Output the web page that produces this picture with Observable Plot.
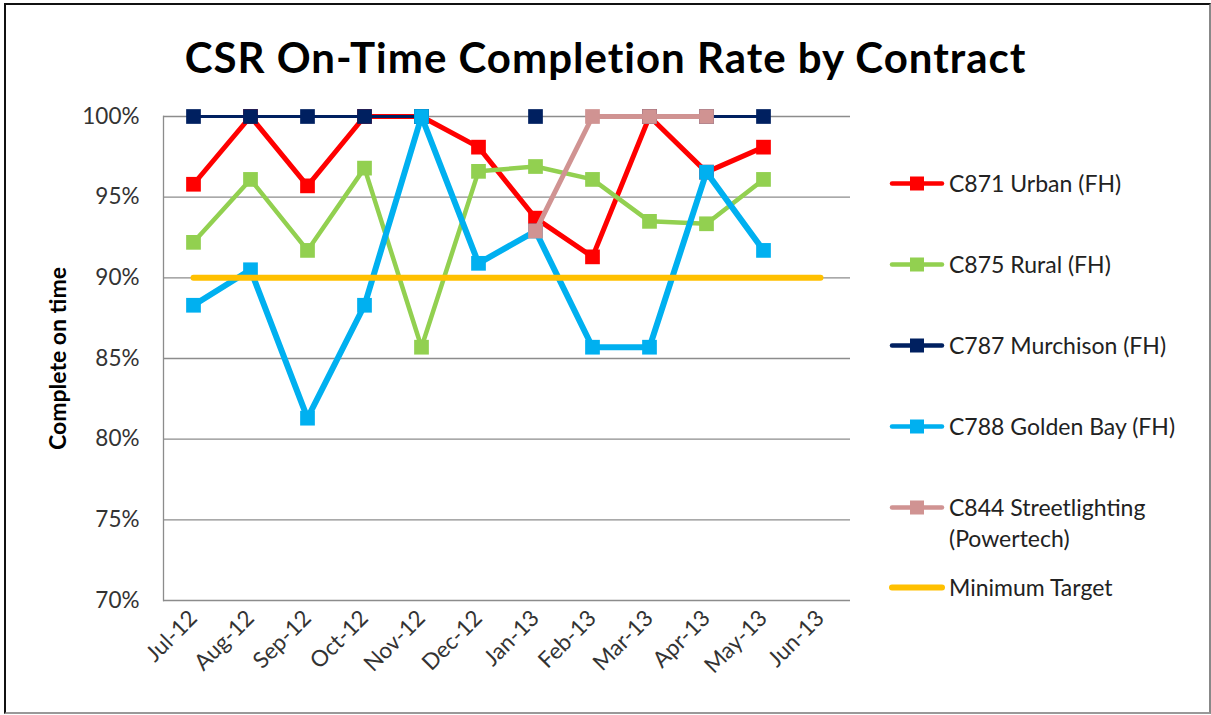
<!DOCTYPE html>
<html>
<head>
<meta charset="utf-8">
<script src="https://cdn.jsdelivr.net/npm/d3@7"></script>
<script src="https://cdn.jsdelivr.net/npm/@observablehq/plot@0.6"></script>
<style>
  html, body { margin: 0; padding: 0; background: #fff; }
  #wrap { position: relative; width: 1211px; height: 715px; overflow: hidden; font-family: Lato, "Open Sans", sans-serif; }
  #frame { position: absolute; left: 4px; top: 3px; width: 1203px; height: 707px;
           border-top: 2px solid #111; border-left: 2px solid #111; border-right: 2px solid #888; border-bottom: 2px solid #999; }
  #title { position: absolute; left: 0; width: 1211px; top: 36px; text-align: center;
           font: bold 42px Lato, sans-serif; letter-spacing: 1px; line-height: 1; color: #000; white-space: nowrap; }
  #chart { position: absolute; left: 0; top: 100px; }
  #legend { position: absolute; left: 889px; top: 0; }
  .item { position: absolute; left: 0; display: flex; align-items: flex-start; white-space: nowrap; }
  .item svg { flex: none; margin-right: 4px; }
  .item span { font-size: 23px; line-height: 31px; color: #222; }
</style>
</head>
<body>
<div id="wrap">
  <div id="frame"></div>
  <div id="title">CSR On-Time Completion Rate by Contract</div>
  <div id="chart"></div>
  <div id="legend"></div>
</div>
<script>
const months = ["Jul-12","Aug-12","Sep-12","Oct-12","Nov-12","Dec-12","Jan-13","Feb-13","Mar-13","Apr-13","May-13","Jun-13"];
const urban          = [95.8, 100, 95.7, 100, 100, 98.1, 93.7, 91.3, 100, 96.55, 98.1, null];
const rural          = [92.2, 96.1, 91.7, 96.8, 85.7, 96.6, 96.9, 96.1, 93.5, 93.35, 96.1, null];
const murchison      = [100, 100, 100, 100, 100, null, 100, null, 100, 100, 100, null];
const goldenBay      = [88.3, 90.5, 81.3, 88.3, 100, 90.9, 92.9, 85.7, 85.7, 96.55, 91.7, null];
const streetlighting = [null, null, null, null, null, null, 92.9, 100, 100, 100, null, null];
const minimumTarget  = [90, 90, 90, 90, 90, 90, 90, 90, 90, 90, 90, 90];
const yTicks = [70, 75, 80, 85, 90, 95, 100];

const series = [
  {name: "C871 Urban (FH)", values: urban, color: "#FF0000", width: 5, marker: true},
  {name: "C875 Rural (FH)", values: rural, color: "#92D050", width: 4.5, marker: true},
  {name: "C787 Murchison (FH)", values: murchison, color: "#002060", width: 3, marker: true},
  {name: "C788 Golden Bay (FH)", values: goldenBay, color: "#00B0F0", width: 6, marker: true},
  {name: "C844 Streetlighting\n(Powertech)", values: streetlighting, color: "#D09392", width: 5, marker: true},
  {name: "Minimum Target", values: minimumTarget, color: "#FFC000", width: 6, marker: false}
];

const rows = s => months.map((m, i) => ({month: m, value: s.values[i]}));

const marks = [
  Plot.ruleY(yTicks, {stroke: "#8c8c8c", strokeWidth: 1.3}),
  Plot.frame({anchor: "left", stroke: "#8c8c8c", strokeWidth: 1.3}),
  Plot.axisY({ticks: yTicks, tickSize: 0, tickPadding: 24, tickFormat: d => d + "%", label: null}),
  Plot.axisX({tickSize: 0, tickPadding: 14, tickRotate: -45, label: null}),
  Plot.text(["Complete on time"], {frameAnchor: "left", dx: -105, rotate: -90, text: d => d,
    textAnchor: "middle", fontWeight: "bold", fontSize: 23, fill: "#000"})
];
for (const s of series) {
  const data = rows(s);
  marks.push(Plot.line(data, {x: "month", y: "value", stroke: s.color, strokeWidth: s.width,
    strokeLinejoin: "round", strokeLinecap: "round"}));
  if (s.marker) {
    marks.push(Plot.dot(data.filter(d => d.value != null), {x: "month", y: "value", symbol: "square",
      r: 8.3, fill: s.color, stroke: "none"}));
  }
}

const plot = Plot.plot({
  width: 880, height: 615,
  marginLeft: 163, marginRight: 30, marginTop: 16, marginBottom: 115,
  style: {fontFamily: "Lato, sans-serif", fontSize: "22.5px", color: "#333", background: "transparent"},
  x: {type: "point", domain: months, padding: 0.5},
  y: {domain: [70, 100]},
  marks
});
document.getElementById("chart").appendChild(plot);

// legend
const legend = document.getElementById("legend");
const centers = [183, 264, 345, 426, 507, 587];
series.forEach((s, i) => {
  const item = document.createElement("div");
  item.className = "item";
  item.style.top = (centers[i] - 15.5) + "px";
  const svg = d3.create("svg").attr("width", 56).attr("height", 31);
  svg.append("line").attr("x1", 3).attr("x2", 53).attr("y1", 15.5).attr("y2", 15.5)
    .attr("stroke", s.color).attr("stroke-width", s.marker ? 4.5 : 6).attr("stroke-linecap", "round");
  if (s.marker) svg.append("rect").attr("x", 21).attr("y", 8.5).attr("width", 14).attr("height", 14).attr("fill", s.color);
  item.appendChild(svg.node());
  const span = document.createElement("span");
  span.innerHTML = s.name.replace("\n", "<br>");
  item.appendChild(span);
  legend.appendChild(item);
});
</script>
</body>
</html>
